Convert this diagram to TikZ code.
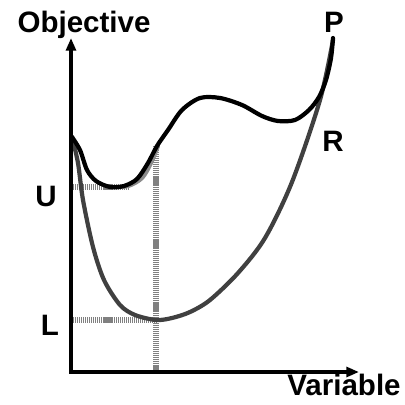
\documentclass[tikz,border=0pt]{standalone}
\usepackage{fontspec}
\setmainfont{Liberation Sans}
\usetikzlibrary{arrows.meta}

\begin{document}
\begin{tikzpicture}[
    x=0.025cm, y=-0.025cm,
    lbl/.style={font=\bfseries\fontsize{21}{24}\selectfont, inner sep=0pt, anchor=base},
    axis/.style={line width=3.2pt, {Triangle[length=9pt,width=7pt]}-{Triangle[length=9pt,width=7pt]}},
    curve/.style={line width=3pt, line join=round, line cap=round},
    hatch/.style={line width=3.8pt, gray, dash pattern=on 0.8pt off 0.6pt},
]
\useasboundingbox (0,0) rectangle (405,405);

% axes
\coordinate (origin) at (71,372);
\coordinate (ytip) at (71,38);
\coordinate (xtip) at (359,372);

% guide lines
\coordinate (u) at (71,187);
\coordinate (ue) at (130,187);
\coordinate (l) at (71,320);
\coordinate (le) at (156,320);
\coordinate (vt) at (156,146);
\coordinate (vb) at (156,372);
\draw[hatch] (u) -- (ue);
\draw[hatch] (l) -- (le);
\draw[hatch] (vt) -- (vb);

% R curve
\draw[curve, black!75] plot[smooth] coordinates {(72,137) (78,163) (83,200) (93,247) (104,280) (120,305) (135,315) (156,320) (172,318) (190,312) (210,300) (238,273) (265,238) (292,182) (320,100) (333,40)};

% U curve
\draw[curve, black!45] plot[smooth] coordinates {(110,187) (128,186) (142,178) (151,163) (158,146)};

% P curve
\draw[curve, black] plot[smooth] coordinates {(72,137) (80,150) (87,170) (96,181) (110,187) (124,186) (137,179) (148,163) (157,146) (168,130) (182,110) (200,98) (220,98) (242,105) (262,116) (278,121) (295,120) (309,110) (319,97) (326,80) (331,58) (333,38)};

\draw[axis] (ytip) -- (origin) -- (xtip);

% labels
\node[lbl] (objective) at (84,33) {Objective};
\node[lbl] (variable) at (344,395) {Variable};
\node[lbl] (p) at (334,33) {P};
\node[lbl] (r) at (333,152) {R};
\node[lbl] (uu) at (46,207) {U};
\node[lbl] (ll) at (50,335) {L};
\end{tikzpicture}
\end{document}
